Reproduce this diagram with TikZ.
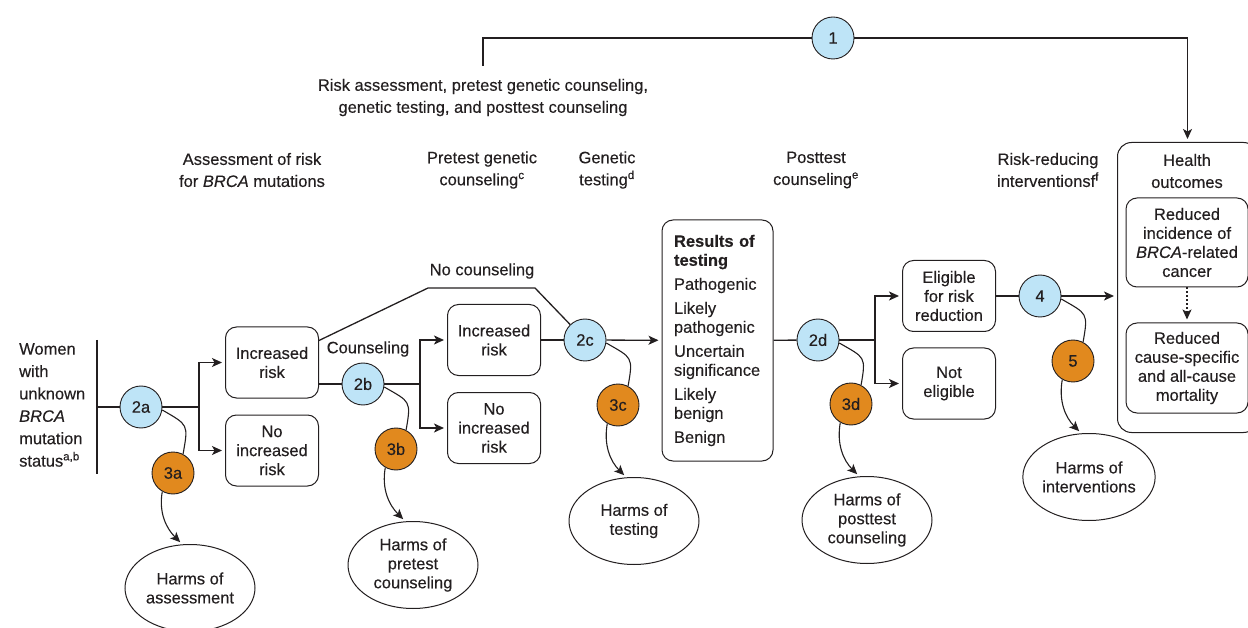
\documentclass[tikz,border=0pt]{standalone}
\usepackage{fontspec}
\setmainfont{Liberation Sans}[FakeBold=0.35]
\usetikzlibrary{arrows.meta,shapes.geometric}
\definecolor{cblue}{RGB}{190,228,247}
\definecolor{corange}{RGB}{225,137,30}
\definecolor{ink}{RGB}{35,31,32}
\begin{document}
\begin{tikzpicture}[x=1pt,y=1pt,
  every node/.style={text=ink},
  txt/.style={font=\fontsize{16.5}{19}\selectfont, align=center},
  hdr/.style={font=\fontsize{16.5}{22}\selectfont, align=center, inner sep=0pt},
  box/.style={txt, draw=ink, line width=1pt, rounded corners=11pt, minimum width=93pt, minimum height=71pt, inner sep=2pt},
  bc/.style={circle, draw=ink, line width=0.9pt, fill=cblue, minimum size=42pt, inner sep=0pt, font=\fontsize{16.5}{19}\selectfont},
  oc/.style={bc, fill=corange},
  harm/.style={ellipse, txt, draw=ink, line width=1pt, minimum width=130pt, minimum height=87pt, inner sep=0pt},
  ln/.style={draw=ink, line width=1.3pt},
  arr/.style={ln, -{Stealth[length=10pt,width=9pt,inset=2.5pt]}, shorten >=3pt},
  carr/.style={arr, line width=1.1pt},
  sc/.style={ln, line width=1.1pt},
]
\useasboundingbox (0,0) rectangle (1248,-628);

% top bracket
\node[bc] (c1) at (833,-38) {1};
\coordinate (topL) at (483,-38);
\coordinate (topE) at (483,-66);
\node[hdr] (hall) at (483,-97.5) {Risk assessment, pretest genetic counseling,\\genetic testing, and posttest counseling};

% health outcomes
\node[draw=ink, line width=1pt, rounded corners=14pt, minimum width=140pt, minimum height=290pt, anchor=north west] (hbox) at (1117,-142) {};
\node[hdr] (hout) at (1187,-171) {Health\\outcomes};
\node[box, minimum width=122pt, minimum height=89pt] (o1) at (1187,-242.5) {Reduced\\incidence of\\\textit{BRCA}-related\\cancer};
\node[box, minimum width=122pt, minimum height=90pt] (o2) at (1187,-368) {Reduced\\cause-specific\\and all-cause\\mortality};

\draw[ln] (topE) -- (topL) -- (c1);
\draw[arr] (c1) -| (hbox.north);
\draw[arr, line width=1.2pt, dash pattern=on 2pt off 2pt] (o1) -- (o2);

% headers
\node[hdr] (h1) at (252,-170) {Assessment of risk\\for \textit{BRCA} mutations};
\node[hdr] (h2) at (482,-170) {Pretest genetic\\counseling\textsuperscript{c}};
\node[hdr] (h3) at (607,-170) {Genetic\\testing\textsuperscript{d}};
\node[hdr] (h4) at (816,-170) {Posttest\\counseling\textsuperscript{e}};
\node[hdr] (h5) at (1048,-170) {Risk-reducing\\interventionsf\textsuperscript{f}};

% left
\node[font=\fontsize{16.5}{22.4}\selectfont, align=left, anchor=west, inner sep=0pt] (women) at (19,-405) {Women\\with\\unknown\\\textit{BRCA}\\mutation\\status\textsuperscript{a,b}};
\coordinate (v1) at (97,-340);
\coordinate (v2) at (97,-474);
\coordinate (vm) at (97,-407);
\draw[ln] (v1) -- (v2);

% circles
\node[bc] (c2a) at (141,-407) {2a};
\node[bc] (c2b) at (363,-384) {2b};
\node[bc] (c2c) at (585,-340) {2c};
\node[bc] (c2d) at (818,-340) {2d};
\node[bc] (c4) at (1040,-296) {4};
\node[oc] (o3a) at (173,-473) {3a};
\node[oc] (o3b) at (396,-449) {3b};
\node[oc] (o3c) at (618,-405) {3c};
\node[oc] (o3d) at (851,-404) {3d};
\node[oc] (o5) at (1073,-361) {5};

% boxes
\node[box] (A1) at (272,-362.5) {Increased\\risk};
\node[box] (A2) at (272,-450.5) {No\\increased\\risk};
\node[box] (B1) at (494,-340) {Increased\\risk};
\node[box] (B2) at (494,-428) {No\\increased\\risk};
\node[draw=ink, line width=1pt, rounded corners=11pt, minimum width=111pt, minimum height=241pt, align=left, text width=87pt, inner xsep=12pt, font=\fontsize{16.5}{19}\selectfont] (res) at (717.5,-340.5) {\textbf{Results of}\\\textbf{testing}\\[5pt]Pathogenic\\[5pt]Likely\\pathogenic\\[5pt]Uncertain\\significance\\[5pt]Likely\\benign\\[5pt]Benign};
\node[box] (E1) at (949,-296) {Eligible\\for risk\\reduction};
\node[box] (E2) at (949,-383.5) {Not\\eligible};

% harms
\node[harm] (eA) at (190,-588) {Harms of\\assessment};
\node[harm] (eB) at (413,-565) {Harms of\\pretest\\counseling};
\node[harm] (eC) at (634,-521) {Harms of\\testing};
\node[harm] (eD) at (867,-520) {Harms of\\posttest\\counseling};
\node[harm] (eE) at (1089,-477) {Harms of\\interventions};

% labels
\node[txt] (lnc) at (482,-271) {No counseling};
\node[txt] (lc) at (368,-349) {Counseling};

% main flow
\coordinate (br1) at (199,-407);
\coordinate (br2) at (420,-384);
\coordinate (br3) at (875,-340);
\coordinate (nc1) at (428,-288);
\coordinate (nc2) at (535,-288);

\draw[ln] (vm) -- (c2a);
\draw[ln] (c2a) -- (br1);
\draw[arr] (br1) |- (A1.west);
\draw[arr] (br1) |- (A2.west);
\draw[ln] (A1.east |- c2b) -- (c2b);
\draw[ln] ([yshift=22pt]A1.east) -- (nc1) -- (nc2) -- (c2c);
\draw[ln] (c2b) -- (br2);
\draw[arr] (br2) |- (B1.west);
\draw[arr] (br2) |- (B2.west);
\draw[ln] (B1) -- (c2c);
\draw[arr] (c2c) -- (res);
\draw[ln] (res) -- (c2d);
\draw[ln] (c2d) -- (br3);
\draw[arr] (br3) |- (E1.west);
\draw[arr] (br3) |- (E2.west);
\draw[ln] (E1) -- (c4);
\draw[arr] (c4) -- (c4 -| hbox.west);

% harm curves
\draw[sc] (c2a.-8) to[out=-30,in=80,looseness=1.6] (o3a.62);
\draw[carr] (o3a.-120) to[out=-100,in=135] (eA.100);
\draw[sc] (c2b.-8) to[out=-30,in=80,looseness=1.6] (o3b.62);
\draw[carr] (o3b.-120) to[out=-100,in=135] (eB.100);
\draw[sc] (c2c.-8) to[out=-30,in=80,looseness=1.6] (o3c.62);
\draw[carr] (o3c.-120) to[out=-100,in=135] (eC.100);
\draw[sc] (c2d.-8) to[out=-30,in=80,looseness=1.6] (o3d.62);
\draw[carr] (o3d.-120) to[out=-100,in=135] (eD.100);
\draw[sc] (c4.-8) to[out=-30,in=80,looseness=1.6] (o5.62);
\draw[carr] (o5.-120) to[out=-100,in=135] (eE.100);
\end{tikzpicture}
\end{document}
